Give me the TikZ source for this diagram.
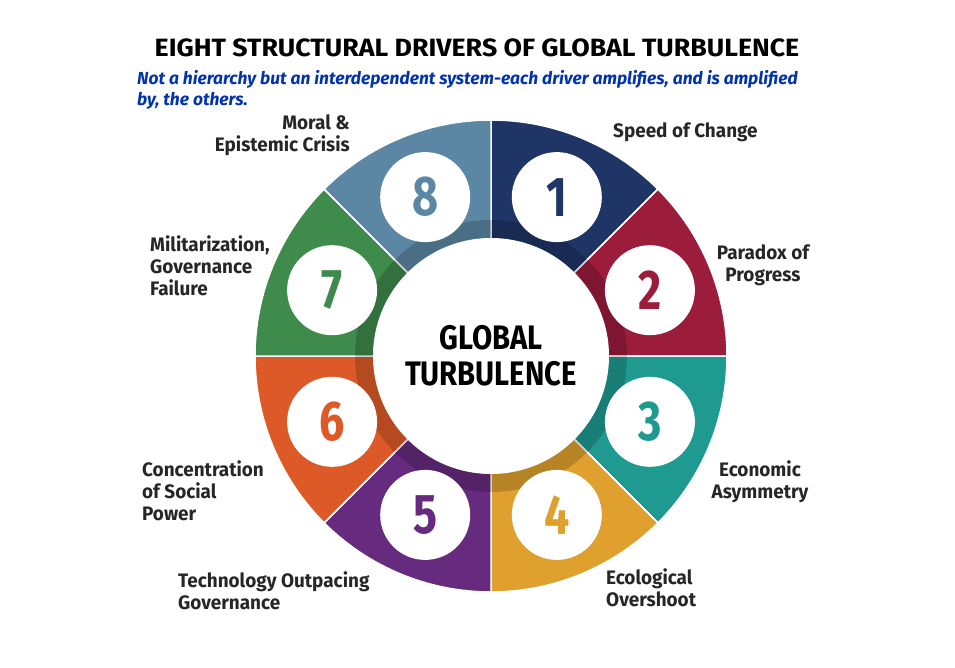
\documentclass[tikz,border=0pt]{standalone}
\usepackage{fontspec}
\setmainfont{Fira Sans}
\begin{document}
\begin{tikzpicture}[x=1pt,y=-1pt,
  lbl/.style={font=\bfseries\fontsize{19.5}{22}\selectfont, text=black!85, inner sep=0pt, xscale=0.97},
  num/.style={circle, fill=white, minimum size=90pt, inner sep=0pt, font=\bfseries\fontsize{56}{56}\selectfont}]
\useasboundingbox (0,0) rectangle (955,668);
\fill[white] (0,0) rectangle (955,668);
\definecolor{c1}{HTML}{1F3566}
\definecolor{c2}{HTML}{9C1C3C}
\definecolor{c3}{HTML}{1E9A90}
\definecolor{c4}{HTML}{DFA02E}
\definecolor{c5}{HTML}{662A7E}
\definecolor{c6}{HTML}{DD5A28}
\definecolor{c7}{HTML}{3E8B4B}
\definecolor{c8}{HTML}{5B87A4}
\coordinate (C) at (491,356);
\foreach \i/\c in {1/c1,2/c2,3/c3,4/c4,5/c5,6/c6,7/c7,8/c8}{
  \pgfmathsetmacro{\a}{-90+45*(\i-1)}
  \pgfmathsetmacro{\b}{-45+45*(\i-1)}
  \fill[\c,draw=white,line width=1.5pt] (C) -- ++(\a:236) arc[start angle=\a,end angle=\b,radius=236] -- cycle;
}
\fill[black,opacity=0.18] (C) circle (136);
\node[circle,fill=white,minimum size=236pt,inner sep=0pt] (center) at (C) {};
\node[font=\bfseries\fontsize{34}{36}\selectfont, align=center, xscale=0.86] (ct) at (C) {GLOBAL\\TURBULENCE};
\foreach \i/\c in {1/c1,2/c2,3/c3,4/c4,5/c5,6/c6,7/c7,8/c8}{
  \pgfmathsetmacro{\m}{67.5-45*(\i-1)}
  \node[num,text=\c] (n\i) at ({491+172*cos(\m)},{356-172*sin(\m)}) {\scalebox{0.8}[1]{\i}};
}
\node[font=\bfseries\fontsize{25}{28}\selectfont, inner sep=0pt, xscale=1.07] (title) at (477,48) {EIGHT STRUCTURAL DRIVERS OF GLOBAL TURBULENCE};
\node[font=\bfseries\itshape\fontsize{17.4}{21}\selectfont, text=blue!60!black!80!cyan, align=left, anchor=north west, inner sep=0pt] (sub) at (137,70) {Not a hierarchy but an interdependent system-each driver amplifies, and is amplified\\by, the others.};
\node[lbl, anchor=west] (l1) at (613,132) {Speed of Change};
\node[lbl, align=center] (l2) at (763,265) {Paradox of\\Progress};
\node[lbl, align=center] (l3) at (760,482) {Economic\\Asymmetry};
\node[lbl, align=left, anchor=west] (l4) at (606,588) {Ecological\\Overshoot};
\node[lbl, align=left, anchor=west] (l5) at (178,591) {Technology Outpacing\\Governance};
\node[lbl, align=left, anchor=west] (l6) at (142,491) {Concentration\\of Social\\Power};
\node[lbl, align=left, anchor=west] (l7) at (150,266) {Militarization,\\Governance\\Failure};
\node[lbl, align=right, anchor=east] (l8) at (350,135) {Moral \&\\Epistemic Crisis};
\end{tikzpicture}
\end{document}
